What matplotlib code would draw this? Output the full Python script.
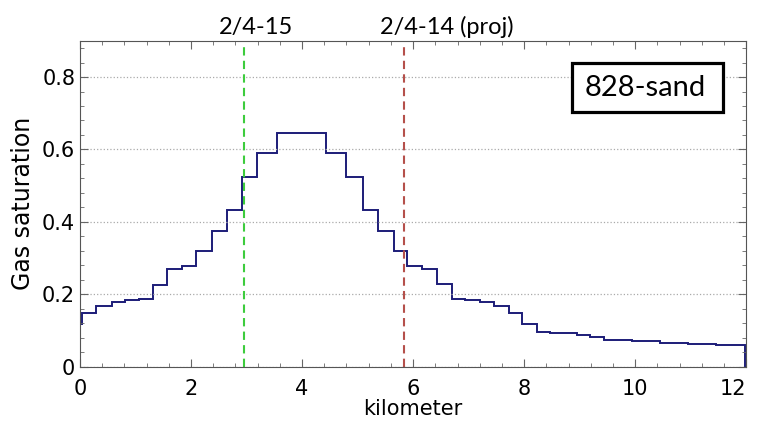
import matplotlib.pyplot as plt
from matplotlib.patches import Rectangle
from matplotlib.ticker import MultipleLocator, FuncFormatter

# step edges (km) and gas saturation per step
edges = [0, 0.03, 0.29, 0.57, 0.81, 1.07, 1.31, 1.57, 1.83, 2.09, 2.37, 2.64,
         2.91, 3.18, 3.54, 4.43, 4.79, 5.09, 5.36, 5.65, 5.89, 6.16, 6.43,
         6.70, 6.94, 7.21, 7.45, 7.72, 7.97, 8.23, 8.47, 8.95, 9.19, 9.43,
         9.95, 10.45, 10.95, 11.45, 11.97, 12.0]
sat = [0.118, 0.149, 0.169, 0.180, 0.183, 0.187, 0.226, 0.269, 0.277, 0.321,
       0.375, 0.433, 0.523, 0.590, 0.646, 0.590, 0.523, 0.433, 0.375, 0.321,
       0.279, 0.270, 0.228, 0.187, 0.183, 0.178, 0.168, 0.148, 0.118, 0.097,
       0.092, 0.088, 0.081, 0.074, 0.070, 0.067, 0.064, 0.061, 0.0]

xticks = [0, 2, 4, 6, 8, 10, 12]

wells = ["2/4-15", "2/4-14 (proj)"]
well_x = [2.96, 5.83]
well_colors = ["#3dcc3d", "#b5504b"]
label_x = [3.17, 6.6]

plt.rcParams['font.family'] = ['DejaVu Sans']

fig = plt.figure(figsize=(7.57, 4.25), dpi=100)
ax = fig.add_axes([0.1057, 0.137, 0.88, 0.767])

ax.stairs(sat, edges, color='#1c1c78', linewidth=1.4, baseline=None)

for x, c in zip(well_x, well_colors):
    ax.axvline(x, color=c, linestyle='--', linewidth=1.5, dashes=(4, 2.5))
for name, lx in zip(wells, label_x):
    ax.text(lx, 1.02, name, ha='center', va='baseline', fontsize=17,
            family=['Lato', 'DejaVu Sans'], transform=ax.get_xaxis_transform(),
            clip_on=False)

# label box in the upper right
ax.add_patch(Rectangle((0.739, 0.781), 0.226, 0.151, transform=ax.transAxes,
                       facecolor='white', edgecolor='black', linewidth=2.3,
                       zorder=5))
ax.text(0.849, 0.830, "828-sand", ha='center', va='baseline', fontsize=21,
        family=['Lato', 'DejaVu Sans'], transform=ax.transAxes, zorder=6)

ax.set_xlim(0, 12)
ax.set_ylim(0, 0.9)
ax.set_xticks(xticks)
ax.xaxis.set_minor_locator(MultipleLocator(0.4))
ax.yaxis.set_major_locator(MultipleLocator(0.2))
ax.yaxis.set_minor_locator(MultipleLocator(0.04))
ax.yaxis.set_major_formatter(FuncFormatter(lambda v, p: '%g' % round(v, 2)))
ax.tick_params(which='both', direction='in', top=True, right=True,
               labelsize=15, color='#666666')
ax.tick_params(which='major', length=6)
ax.tick_params(which='minor', length=3)
ax.tick_params(axis='x', pad=9)
ax.tick_params(axis='y', pad=3.5)
ax.grid(axis='y', which='major', linestyle=':', color='#aaaaaa', linewidth=0.9)
for s in ax.spines.values():
    s.set_color('#555555')

ax.set_xlabel('kilometer', fontsize=15, labelpad=0)
ax.set_ylabel('Gas saturation', fontsize=17, labelpad=5)

# keep the last x label inside the figure, as in the reference
ax.xaxis.get_major_ticks()[-1].label1.set_horizontalalignment('right')

fig.savefig('out.png', dpi=100)
